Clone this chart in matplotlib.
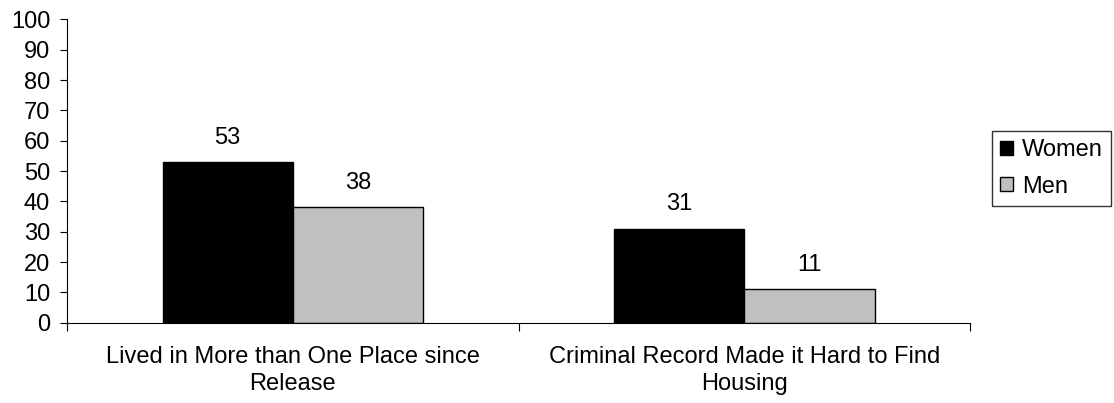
import matplotlib.pyplot as plt
import numpy as np

plt.rcParams['font.family'] = ['Liberation Sans', 'DejaVu Sans']

categories = ["Lived in More than One Place since\nRelease",
              "Criminal Record Made it Hard to Find\nHousing"]
women = [53, 31]
men = [38, 11]

fig = plt.figure(figsize=(11.14, 4.03), dpi=100)
ax = fig.add_axes([0.060, 0.199, 0.811, 0.753])

x = np.arange(len(categories))
w = 0.288
b1 = ax.bar(x - w / 2, women, w, color="black", edgecolor="black", linewidth=1, label="Women")
b2 = ax.bar(x + w / 2, men, w, color="#c0c0c0", edgecolor="black", linewidth=1, label="Men")

# value labels above bars
for bars in (b1, b2):
    for r in bars:
        ax.text(r.get_x() + r.get_width() / 2, r.get_height() + 8, f"{r.get_height():.0f}",
                ha="center", va="center", fontsize=17)

ax.set_xlim(-0.5, 1.5)
ax.set_ylim(0, 100)
ax.set_yticks(range(0, 101, 10))
ax.tick_params(axis="y", labelsize=17, direction="out", length=5, pad=7)
ax.set_xticks([-0.5, 0.5, 1.5])
ax.set_xticklabels([])
ax.set_xticks(x, minor=True)
ax.set_xticklabels(categories, minor=True, fontsize=17, linespacing=1.27)
ax.tick_params(axis="x", which="major", direction="out", length=6)
ax.tick_params(axis="x", which="minor", length=0, pad=17)
for s in ("top", "right"):
    ax.spines[s].set_visible(False)

leg = fig.legend(handles=[b1, b2], loc="upper left", bbox_to_anchor=(0.8905, 0.675),
                 fontsize=17, frameon=True, fancybox=False, edgecolor="black",
                 handlelength=0.55, handleheight=0.55, handletextpad=0.38, borderpad=0.35,
                 labelspacing=0.61, borderaxespad=0)
leg.get_frame().set_linewidth(1)

fig.savefig("out.png", dpi=100)
